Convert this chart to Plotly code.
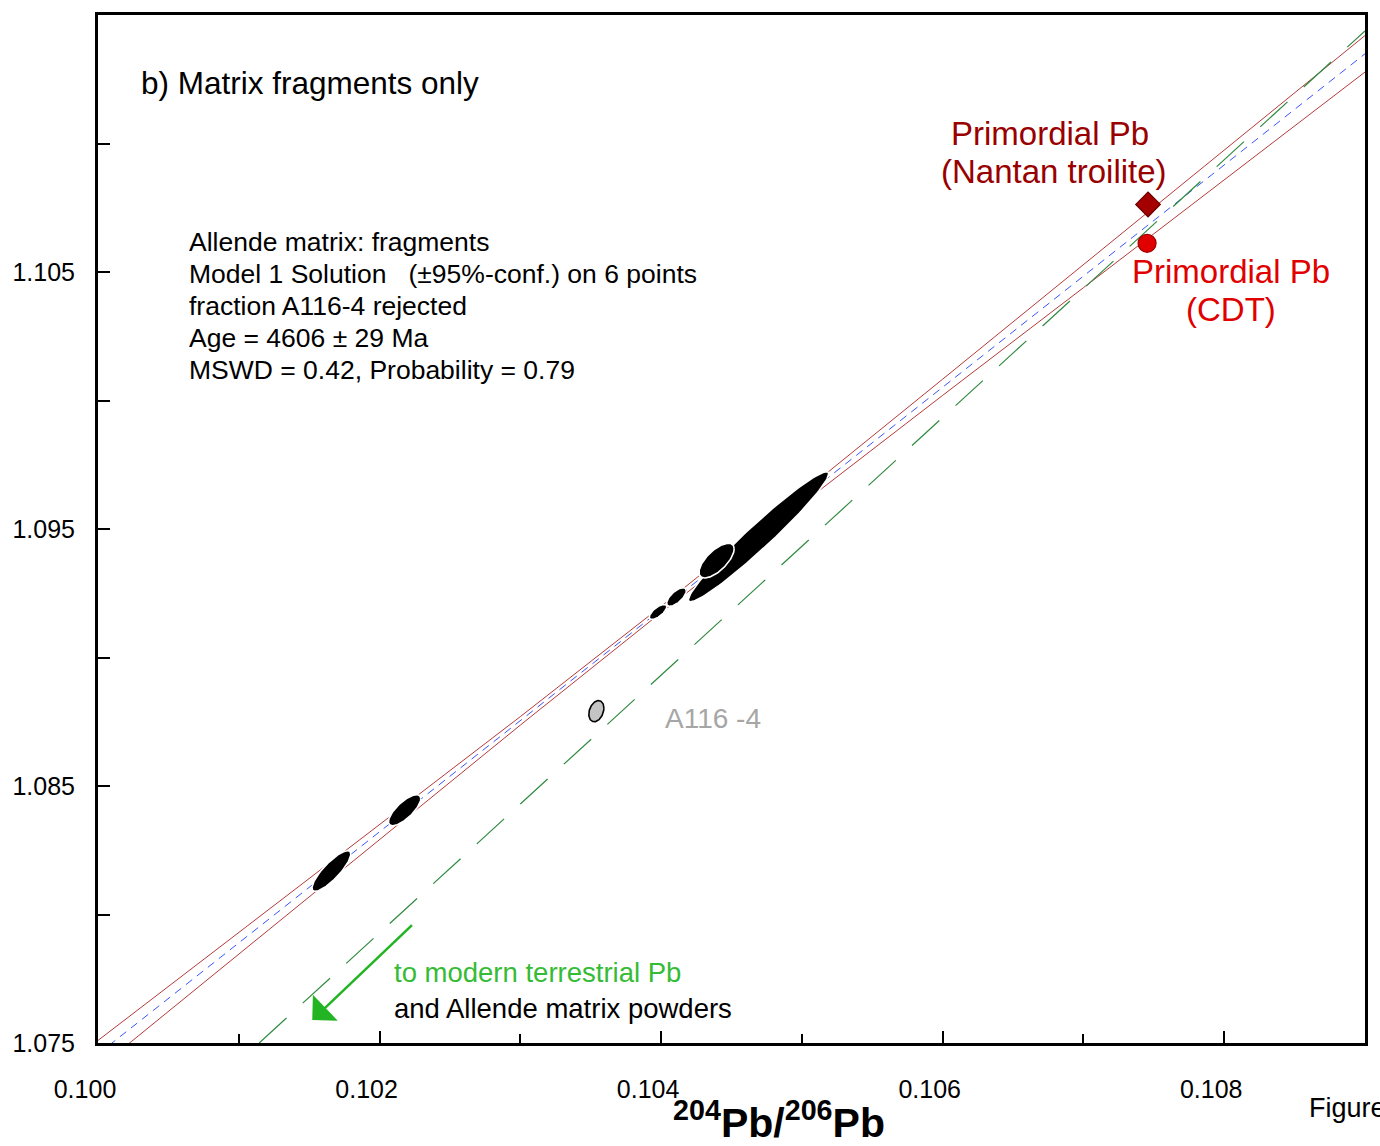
import numpy as np
import plotly.graph_objects as go

# ---------------- data ----------------
x_tickvals = [0.100, 0.102, 0.104, 0.106, 0.108]
x_ticktext = ["0.100", "0.102", "0.104", "0.106", "0.108"]
x_minor = [0.101, 0.103, 0.105, 0.107]
y_tickvals = [1.075, 1.085, 1.095, 1.105]
y_ticktext = ["1.075", "1.085", "1.095", "1.105"]
y_minor = [1.080, 1.090, 1.100, 1.110]

# accepted fractions: centre, 2-sigma half widths, error correlation
ell_x = [0.101658, 0.102178, 0.103978, 0.104109, 0.104692, 0.104394]
ell_y = [1.081693, 1.084059, 1.091772, 1.092354, 1.094697, 1.093770]
ell_ex = [0.0001377, 0.0001147, 0.0000624, 0.0000699, 0.0004985, 0.0001249]
ell_ey = [0.000790, 0.000604, 0.000292, 0.000361, 0.002531, 0.000676]
ell_rho = [0.838, 0.746, 0.691, 0.670, 0.969, 0.675]

# rejected fraction A116-4
rej_x = [0.103540]
rej_y = [1.087912]
rej_ex = [0.0000536]
rej_ey = [0.000412]
rej_rho = [0.288]

# regression line and 95% envelope
fit_x = [0.100, 0.109]
fit_y = [1.07457, 1.11349]
env_x = [0.100, 0.101, 0.102, 0.103, 0.104, 0.105, 0.106, 0.107, 0.108, 0.109]
env_upper = [1.07510, 1.07929, 1.08349, 1.08770, 1.09199, 1.09639, 1.10083, 1.10529, 1.10974, 1.11420]
env_lower = [1.07400, 1.07845, 1.08292, 1.08737, 1.09175, 1.09599, 1.10020, 1.10439, 1.10859, 1.11278]

# line towards modern terrestrial Pb
terr_x = [0.101145, 0.109]
terr_y = [1.07500, 1.11438]

# primordial Pb
nantan_x = [0.107459]
nantan_y = [1.107629]
cdt_x = [0.107452]
cdt_y = [1.106116]

# arrow (head, tail)
arrow_head = (0.101522, 1.075892)
arrow_tail = (0.102241, 1.079644)

stats_lines = [
    "Allende matrix: fragments",
    "Model 1 Solution\u00a0\u00a0\u00a0(±95%-conf.) on 6 points",
    "fraction A116-4 rejected",
    "Age = 4606 ± 29 Ma",
    "MSWD = 0.42, Probability = 0.79",
]

FONT = "Liberation Sans, Arial, sans-serif"

# ---------------- geometry helpers ----------------
L, R, T, B = 93, 1366, 12, 1043
W, H = 1380, 1146


def px(xp):
    return (xp - L) / (R - L)


def py(yp):
    return (B - yp) / (B - T)


def ellipse(cx, cy, ex, ey, rho, n=120):
    t = np.linspace(0, 2 * np.pi, n)
    xs = cx + ex * np.cos(t)
    ys = cy + ey * (rho * np.cos(t) + np.sqrt(1 - rho ** 2) * np.sin(t))
    return xs, ys


fig = go.Figure()

# envelope (red), regression (blue dashed), terrestrial line (green long dash)
fig.add_trace(go.Scatter(x=env_x, y=env_upper, mode="lines",
                         line=dict(color="#b53a3a", width=1), hoverinfo="skip"))
fig.add_trace(go.Scatter(x=env_x, y=env_lower, mode="lines",
                         line=dict(color="#b53a3a", width=1), hoverinfo="skip"))
fig.add_trace(go.Scatter(x=fit_x, y=fit_y, mode="lines",
                         line=dict(color="#3b55ff", width=1, dash="8px,6px"), hoverinfo="skip"))
fig.add_trace(go.Scatter(x=terr_x, y=terr_y, mode="lines",
                         line=dict(color="#2f8a3f", width=1.2, dash="37px,22px"), hoverinfo="skip"))

# rejected fraction
for cx, cy, ex, ey, rho in zip(rej_x, rej_y, rej_ex, rej_ey, rej_rho):
    xs, ys = ellipse(cx, cy, ex, ey, rho)
    fig.add_trace(go.Scatter(x=xs, y=ys, mode="lines", fill="toself",
                             fillcolor="#c4c4c4", line=dict(color="black", width=1.6),
                             hoverinfo="skip"))

# accepted fractions
for cx, cy, ex, ey, rho in zip(ell_x, ell_y, ell_ex, ell_ey, ell_rho):
    xs, ys = ellipse(cx, cy, ex, ey, rho)
    fig.add_trace(go.Scatter(x=xs, y=ys, mode="lines", fill="toself",
                             fillcolor="black", line=dict(color="white", width=1.6),
                             hoverinfo="skip"))

# primordial Pb markers
fig.add_trace(go.Scatter(x=nantan_x, y=nantan_y, mode="markers",
                         marker=dict(symbol="diamond", size=19, color="#a50000",
                                     line=dict(color="#6a0000", width=1.2)),
                         hoverinfo="skip"))
fig.add_trace(go.Scatter(x=cdt_x, y=cdt_y, mode="markers",
                         marker=dict(symbol="circle", size=18, color="#e00000",
                                     line=dict(color="#a00000", width=1.2)),
                         hoverinfo="skip"))

annotations = []


def text(s, xp, yp, size, color="black", anchor="left", bold=False):
    annotations.append(dict(
        text=("<b>%s</b>" % s) if bold else s,
        x=px(xp), y=py(yp), xref="paper", yref="paper",
        xanchor=anchor, yanchor="middle", showarrow=False,
        font=dict(family=FONT, size=size, color=color)))


text("b) Matrix fragments only", 134, 80, 31.5)
for i, line in enumerate(stats_lines):
    text(line, 182, 240 + i * 32, 26.5)
text("Primordial Pb", 1050, 131, 33, color="#990000", anchor="center")
text("(Nantan troilite)", 1054, 169, 33, color="#990000", anchor="center")
text("Primordial Pb", 1231, 269, 33, color="#e00000", anchor="center")
text("(CDT)", 1231, 307, 33, color="#e00000", anchor="center")
text("A116 -4", 661, 718, 28, color="#a6a6a6")
text("to modern terrestrial Pb", 388, 972, 27.5, color="#35bb35")
text("and Allende matrix powders", 388, 1008, 27.5)
text("Figure", 1308, 1108, 27)
text("<sup>204</sup>Pb/<sup>206</sup>Pb", 777, 1120, 41, anchor="center", bold=True)

annotations.append(dict(
    x=arrow_head[0], y=arrow_head[1], ax=arrow_tail[0], ay=arrow_tail[1],
    xref="x", yref="y", axref="x", ayref="y", text="", showarrow=True,
    arrowhead=1, arrowsize=2.4, arrowwidth=2.5, arrowcolor="#22b422"))

fig.update_layout(
    width=W, height=H,
    margin=dict(l=L, r=W - R, t=T, b=H - B),
    paper_bgcolor="white", plot_bgcolor="white",
    showlegend=False,
    annotations=annotations,
    font=dict(family=FONT, size=25, color="black"),
    xaxis=dict(range=[0.100, 0.109], tickmode="array", tickvals=x_tickvals, ticktext=x_ticktext,
               ticks="inside", ticklen=12, tickwidth=2, tickcolor="black",
               minor=dict(tickmode="array", tickvals=x_minor, ticks="inside", ticklen=9,
                          tickwidth=2, tickcolor="black", showgrid=False),
               showline=True, linewidth=3, linecolor="black", mirror=True,
               showgrid=False, zeroline=False,
               tickfont=dict(family=FONT, size=25, color="black"),
               ticklabelstandoff=22, ticklabelshift=-13),
    yaxis=dict(range=[1.075, 1.115], tickmode="array", tickvals=y_tickvals, ticktext=y_ticktext,
               ticks="inside", ticklen=12, tickwidth=2, tickcolor="black",
               minor=dict(tickmode="array", tickvals=y_minor, ticks="inside", ticklen=12,
                          tickwidth=2, tickcolor="black", showgrid=False),
               showline=True, linewidth=3, linecolor="black", mirror=True,
               showgrid=False, zeroline=False,
               tickfont=dict(family=FONT, size=25, color="black"),
               ticklabelstandoff=15),
)

fig.write_html("out.html")
